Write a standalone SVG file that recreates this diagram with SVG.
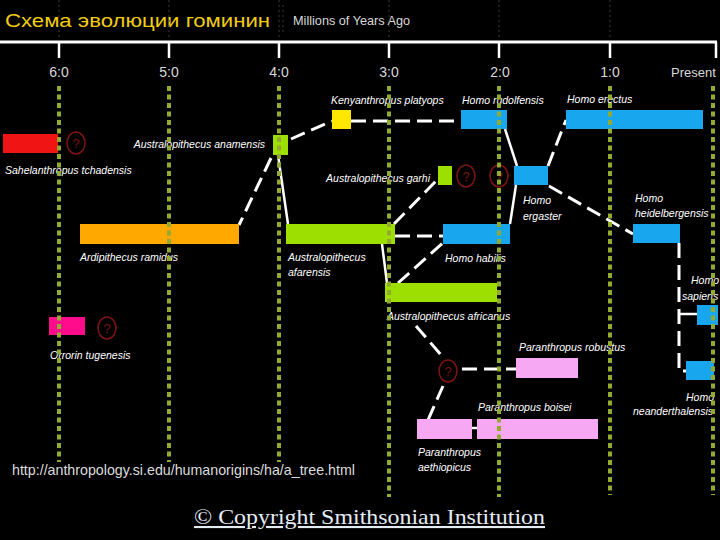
<svg xmlns="http://www.w3.org/2000/svg" width="720" height="540" viewBox="0 0 720 540">
<defs>
<style>
.lbl{font-family:"Liberation Sans",Arial,sans-serif;font-style:italic;font-size:10.5px;fill:#ffffff}
.tick{font-family:"Liberation Sans",Arial,sans-serif;font-size:14px;fill:#d8d8d8}
.dash{stroke:#ffffff;stroke-width:3;fill:none;stroke-dasharray:15 7}
.solid{stroke:#ffffff;stroke-width:2.5;fill:none}
.guide{stroke:#93aa30;stroke-width:4;stroke-dasharray:5 3.5;fill:none}
.faint{stroke:#3a3a3a;stroke-width:1;stroke-dasharray:2 3;fill:none}
.q{fill:none;stroke:#7d1414;stroke-width:1.6}
.qt{font-family:"Liberation Sans",Arial,sans-serif;font-size:13px;fill:#7d1414;text-anchor:middle}
.red{fill:#f01414}.orange{fill:#ffa800}.green{fill:#9de000}.yellow{fill:#ffe800}.blue{fill:#18a6ee}.pink{fill:#f7a8f2}.magenta{fill:#ff0c8c}
</style>
</defs>
<rect x="0" y="0" width="720" height="540" fill="#000000"/>

<g id="header">
<text x="5" y="27" font-family="Liberation Sans,Arial,sans-serif" font-size="19" fill="#f2cc10" textLength="265" lengthAdjust="spacingAndGlyphs">Схема эволюции гоминин</text>
<text x="293" y="25" font-family="Liberation Sans,Arial,sans-serif" font-size="13" fill="#d8d8d8" textLength="117" lengthAdjust="spacingAndGlyphs">Millions of Years Ago</text>
<g class="faint">
<line x1="59" y1="0" x2="59" y2="40"/><line x1="169" y1="0" x2="169" y2="40"/><line x1="279" y1="0" x2="279" y2="40"/><line x1="283" y1="5" x2="283" y2="35"/><line x1="389" y1="0" x2="389" y2="40"/><line x1="499" y1="0" x2="499" y2="40"/><line x1="610" y1="0" x2="610" y2="40"/>
</g>
</g>

<g id="axis" stroke="#ffffff" fill="none">
<line x1="0" y1="42" x2="717" y2="42" stroke-width="3"/>
<g stroke-width="2.5">
<line x1="59" y1="42" x2="59" y2="58"/><line x1="169" y1="42" x2="169" y2="58"/><line x1="279" y1="42" x2="279" y2="58"/><line x1="389" y1="42" x2="389" y2="58"/><line x1="499" y1="42" x2="499" y2="58"/><line x1="610" y1="42" x2="610" y2="58"/><line x1="716" y1="42" x2="716" y2="58"/>
</g>
</g>
<g id="ticklabels" class="tick">
<text x="59" y="77" text-anchor="middle">6:0</text>
<text x="169" y="77" text-anchor="middle">5:0</text>
<text x="279" y="77" text-anchor="middle">4:0</text>
<text x="389" y="77" text-anchor="middle">3:0</text>
<text x="500" y="77" text-anchor="middle">2:0</text>
<text x="610" y="77" text-anchor="middle">1:0</text>
<text x="671" y="77" font-size="13">Present</text>
</g>

<g id="connectors">
<line class="dash" x1="291" y1="139" x2="332" y2="121"/>
<line class="dash" x1="351" y1="121" x2="461" y2="121"/>
<line class="dash" x1="271" y1="158" x2="239" y2="225"/>
<line class="solid" x1="278" y1="155" x2="288" y2="224"/>
<line class="dash" x1="395" y1="236" x2="443" y2="236"/>
<line class="dash" x1="394" y1="224" x2="438" y2="179"/>
<line class="solid" x1="382" y1="244" x2="387" y2="283"/>
<line class="dash" x1="398" y1="283" x2="444" y2="242"/>
<line class="solid" x1="510" y1="224" x2="516" y2="185"/>
<line class="solid" x1="505" y1="129" x2="517" y2="166"/>
<line class="dash" x1="548" y1="166" x2="566" y2="120"/>
<line class="dash" x1="549" y1="186" x2="633" y2="234"/>
<polyline class="dash" stroke-dasharray="26 8" points="679,243 679,371 686,371"/>
<line class="solid" x1="679" y1="314" x2="697" y2="314"/>
<line class="dash" x1="416" y1="326" x2="442" y2="356"/>
<line class="dash" x1="462" y1="369" x2="516" y2="369"/>
<line class="dash" x1="443" y1="386" x2="428" y2="420"/>
<line class="solid" x1="472" y1="428" x2="477" y2="428"/>
</g>

<g id="sahelanthropus">
<rect class="red" x="3" y="134" width="55" height="19"/>
<ellipse class="q" cx="76" cy="143" rx="9" ry="11"/>
<text class="qt" x="76" y="148">?</text>
<text class="lbl" x="5" y="174">Sahelanthropus tchadensis</text>
</g>
<g id="orrorin">
<rect class="magenta" x="49" y="317" width="36" height="18"/>
<ellipse class="q" cx="107" cy="328" rx="9" ry="11"/>
<text class="qt" x="107" y="333">?</text>
<text class="lbl" x="50" y="359">Orrorin tugenesis</text>
</g>
<g id="ardipithecus">
<rect class="orange" x="80" y="224" width="159" height="20"/>
<text class="lbl" x="80" y="261">Ardipithecus ramidus</text>
</g>
<g id="anamensis">
<rect class="green" x="273" y="135" width="15" height="20"/>
<text class="lbl" x="265" y="148" text-anchor="end">Australopithecus anamensis</text>
</g>
<g id="kenyanthropus">
<rect class="yellow" x="332" y="110" width="19" height="19"/>
<text class="lbl" x="331" y="104">Kenyanthropus platyops</text>
</g>
<g id="rudolfensis">
<rect class="blue" x="461" y="110" width="46" height="19"/>
<text class="lbl" x="462" y="104">Homo rudolfensis</text>
</g>
<g id="erectus">
<rect class="blue" x="566" y="110" width="137" height="19"/>
<text class="lbl" x="567" y="103">Homo erectus</text>
</g>
<g id="garhi">
<rect class="green" x="438" y="166" width="14" height="19"/>
<ellipse class="q" cx="466" cy="176" rx="9" ry="11"/>
<text class="qt" x="466" y="181">?</text>
<ellipse class="q" cx="499" cy="176" rx="9" ry="11"/>
<text class="qt" x="499" y="181">?</text>
<text class="lbl" x="430" y="182" text-anchor="end">Australopithecus garhi</text>
</g>
<g id="ergaster">
<rect class="blue" x="514" y="166" width="34" height="19"/>
<text class="lbl" x="523" y="204">Homo</text>
<text class="lbl" x="523" y="220">ergaster</text>
</g>
<g id="afarensis">
<rect class="green" x="286" y="224" width="109" height="20"/>
<text class="lbl" x="288" y="261">Australopithecus</text>
<text class="lbl" x="288" y="276">afarensis</text>
</g>
<g id="habilis">
<rect class="blue" x="443" y="224" width="67" height="20"/>
<text class="lbl" x="445" y="262">Homo habilis</text>
</g>
<g id="heidelbergensis">
<rect class="blue" x="633" y="224" width="47" height="19"/>
<text class="lbl" x="635" y="202">Homo</text>
<text class="lbl" x="635" y="217">heidelbergensis</text>
</g>
<g id="sapiens">
<rect class="blue" x="697" y="305" width="21" height="20"/>
<text class="lbl" x="691" y="284">Homo</text>
<text class="lbl" x="682" y="300">sapiens</text>
</g>
<g id="neanderthalensis">
<rect class="blue" x="686" y="361" width="28" height="19"/>
<text class="lbl" x="714" y="401" text-anchor="end">Homo</text>
<text class="lbl" x="633" y="415">neanderthalensis</text>
</g>
<g id="africanus">
<rect class="green" x="385" y="283" width="112" height="19"/>
<text class="lbl" x="387" y="320">Australopithecus africanus</text>
</g>
<g id="unknown">
<ellipse class="q" cx="448" cy="371" rx="9" ry="11"/>
<text class="qt" x="448" y="376">?</text>
</g>
<g id="robustus">
<rect class="pink" x="516" y="358" width="62" height="20"/>
<text class="lbl" x="519" y="351">Paranthropus robustus</text>
</g>
<g id="boisei">
<rect class="pink" x="477" y="419" width="121" height="20"/>
<text class="lbl" x="478" y="411">Paranthropus boisei</text>
</g>
<g id="aethiopicus">
<rect class="pink" x="417" y="419" width="55" height="20"/>
<text class="lbl" x="418" y="456">Paranthropus</text>
<text class="lbl" x="418" y="471">aethiopicus</text>
</g>

<g id="guides" class="guide">
<line x1="59" y1="86" x2="59" y2="462"/>
<line x1="169" y1="86" x2="169" y2="462"/>
<line x1="279" y1="86" x2="279" y2="462"/>
<line x1="389" y1="86" x2="389" y2="497"/>
<line x1="499" y1="86" x2="499" y2="497"/>
<line x1="610" y1="86" x2="610" y2="495"/>
<line x1="713" y1="86" x2="713" y2="495"/>
</g>

<g id="footer">
<text x="12" y="475" font-family="Liberation Sans,Arial,sans-serif" font-size="15" fill="#dcdcdc" textLength="343" lengthAdjust="spacingAndGlyphs">http://anthropology.si.edu/humanorigins/ha/a_tree.html</text>
<text x="194" y="524" font-family="Liberation Serif,Times New Roman,serif" font-size="21" fill="#e4ecf6" text-decoration="underline" textLength="351" lengthAdjust="spacingAndGlyphs">© Copyright Smithsonian Institution</text>
</g>
</svg>
